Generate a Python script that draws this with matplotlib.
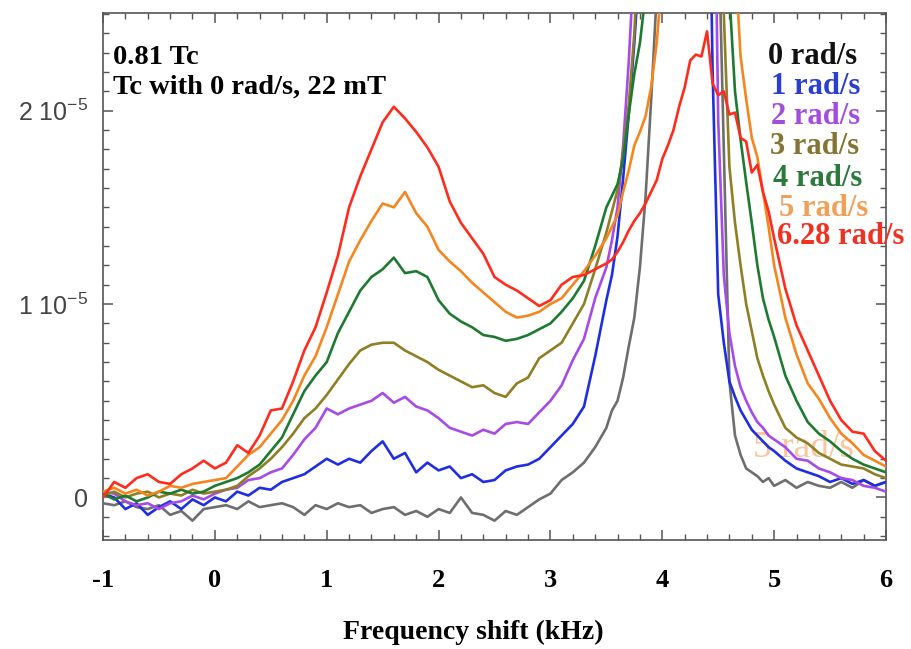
import matplotlib
matplotlib.use("Agg")
import matplotlib.pyplot as plt
from matplotlib.ticker import MultipleLocator, FixedLocator, FixedFormatter
import numpy as np

plt.rcParams['axes.unicode_minus'] = False

# frequency grid (kHz): 0.1 steps, finer around the main peak
freq = np.round(np.r_[np.arange(-1.0, 3.45, 0.1),
                      np.arange(3.5, 5.025, 0.05),
                      np.arange(5.1, 6.05, 0.1)], 2)

# signal values in units of 1e-6 (values above the frame are clipped)
rot_0 = [-0.3, -0.4, -0.2, -0.5, -0.6, -0.4, -0.9, -0.7, -1.2, -0.6,
         -0.5, -0.4, -0.6, -0.2, -0.5, -0.4, -0.3, -0.5, -0.9, -0.4,
         -0.6, -0.3, -0.5, -0.4, -0.8, -0.6, -0.5, -0.9, -0.7, -1.0,
         -0.6, -0.8, 0.0, -0.8, -0.9, -1.2, -0.7, -0.9, -0.5, -0.1,
         0.2, 0.9, 1.3, 1.8, 2.6,
         3.6, 4.5, 5.0, 6.2, 7.8, 9.3, 11.9, 15.5, 20.5, 26, 32,
         40, 40, 40, 40, 40, 40, 40, 40, 40, 30,
         18, 6.0, 3.2, 2.2, 1.5, 1.3, 1.1, 0.8, 1.0, 0.6,
         0.9, 0.5, 0.8, 0.6, 0.5, 0.8, 0.5, 0.9, 0.6, 0.8]
rot_1 = [0.2, 0.0, -0.6, -0.3, -0.9, -0.5, -0.2, -0.6, -0.1, -0.4,
         0.0, -0.2, 0.3, 0.1, 0.5, 0.4, 0.8, 1.0, 1.2, 1.6,
         2.0, 1.7, 2.0, 1.8, 2.4, 2.9, 2.0, 2.3, 1.3, 1.8,
         1.4, 1.6, 1.0, 1.2, 0.8, 0.9, 1.4, 1.6, 1.7, 2.0,
         2.6, 3.2, 3.8, 4.7, 7.3,
         10.2, 11.5, 13.5, 16.5, 19.8, 23.5, 28, 34, 40, 40, 40,
         40, 40, 40, 40, 40, 40, 40, 40, 22, 10.5,
         8.0, 6.0, 5.2, 4.5, 4.0, 3.5, 3.2, 2.9, 2.6, 2.4,
         1.9, 1.5, 1.3, 1.1, 0.8, 1.0, 0.7, 0.9, 0.6, 0.8]
rot_2 = [0.3, 0.2, -0.2, -0.4, -0.3, -0.6, -0.3, -0.2, 0.1, -0.1,
         0.2, 0.4, 0.5, 0.9, 1.0, 1.3, 1.5, 2.2, 3.0, 3.6,
         4.6, 4.3, 4.6, 4.8, 5.0, 5.4, 4.9, 5.2, 4.7, 4.5,
         4.1, 3.6, 3.4, 3.2, 3.5, 3.3, 3.8, 3.9, 3.8, 4.4,
         5.0, 5.8, 7.1, 8.2, 10.3,
         11.9, 13.3, 15.0, 18.2, 22.5, 28, 40, 40, 40, 40, 40,
         40, 40, 40, 40, 40, 40, 40, 40, 40, 19.5,
         11.5, 8.5, 6.8, 5.7, 5.0, 4.4, 3.9, 3.6, 3.2, 3.0,
         2.6, 2.0, 1.9, 1.5, 1.3, 1.0, 0.9, 0.6, 0.5, 0.3]
rot_3 = [0.1, 0.3, 0.0, 0.2, 0.3, 0.0, 0.2, 0.1, 0.4, 0.2,
         0.3, 0.4, 0.6, 1.1, 1.5, 2.0, 2.6, 3.3, 4.1, 4.6,
         5.3, 6.1, 6.9, 7.6, 7.9, 8.0, 8.0, 7.6, 7.3, 7.0,
         6.6, 6.3, 6.0, 5.7, 5.8, 5.4, 5.2, 5.9, 6.2, 7.2,
         7.6, 8.0, 9.0, 10.0, 11.8,
         13.7, 14.8, 15.9, 17.8, 20.3, 24, 30, 40, 40, 40, 40,
         40, 40, 40, 40, 40, 40, 40, 40, 40, 40,
         25, 17.1, 14.2, 12.0, 10.0, 8.6, 7.2, 6.3, 5.5, 4.8,
         3.6, 3.1, 2.8, 2.3, 2.0, 1.7, 1.6, 1.5, 1.2, 1.0]
rot_4 = [0.2, -0.1, 0.1, -0.2, 0.0, 0.3, 0.2, 0.4, 0.2, 0.3,
         0.6, 0.8, 1.0, 1.3, 1.7, 2.4, 3.1, 4.3, 5.5, 6.3,
         7.0, 8.5, 9.6, 10.7, 11.4, 11.8, 12.4, 11.6, 11.7, 11.4,
         10.2, 9.5, 9.1, 8.8, 8.4, 8.3, 8.1, 8.2, 8.4, 8.7,
         9.0, 9.6, 10.3, 11.2, 13.0,
         15.0, 15.6, 16.2, 17.5, 19.8, 21.9, 23.5, 26, 40, 40, 40,
         40, 40, 40, 40, 40, 40, 40, 40, 40, 40,
         40, 26, 21.0, 18.5, 16.3, 14.2, 12.0, 10.3, 9.2, 8.3,
         6.3, 5.0, 3.9, 3.3, 2.9, 2.4, 2.0, 1.7, 1.5, 1.3]
rot_5 = [0.3, 0.5, 0.2, 0.4, 0.1, 0.3, 0.6, 0.5, 0.7, 0.8,
         0.9, 1.0, 1.6, 2.2, 2.6, 3.3, 4.0, 5.0, 6.3, 7.3,
         8.8, 10.5, 12.2, 13.3, 14.3, 15.2, 15.0, 15.8, 14.7, 14.0,
         12.8, 12.2, 11.7, 11.1, 10.6, 10.1, 9.6, 9.3, 9.4, 9.6,
         10.0, 10.3, 11.0, 11.7, 12.5,
         13.4, 14.0, 14.6, 15.8, 16.9, 18.2, 18.9, 19.7, 21.2, 23.5, 27,
         40, 40, 40, 40, 40, 40, 40, 40, 40, 40,
         40, 40, 28, 22.8, 20.6, 18.6, 17.6, 15.8, 14.0, 12.0,
         9.3, 7.4, 5.9, 5.1, 4.1, 3.3, 2.8, 2.2, 1.9, 1.6]
rot_628 = [0.0, 0.8, 0.5, 1.0, 1.2, 0.8, 0.7, 1.2, 1.5, 1.9,
           1.5, 1.8, 2.7, 2.3, 3.2, 4.5, 4.6, 6.0, 7.6, 8.8,
           10.6, 12.5, 15.0, 16.6, 18.0, 19.4, 20.2, 19.6, 18.9, 18.1,
           17.1, 15.3, 14.2, 13.4, 12.6, 11.4, 11.0, 10.7, 10.3, 9.9,
           10.2, 11.0, 11.4, 11.5, 11.8,
           12.1, 12.3, 12.7, 13.2, 13.8, 14.3, 14.7, 15.2, 15.8, 16.4, 17.5,
           18.2, 19.0, 20.2, 21.2, 22.6, 22.9, 22.8, 24.1, 21.4, 20.8,
           21.0, 19.8, 19.9, 18.6, 18.4, 16.8, 17.2, 15.8, 14.8, 13.4,
           10.8, 8.9, 7.6, 6.3, 5.0, 4.0, 3.4, 3.3, 2.4, 1.9]

series = [rot_0, rot_1, rot_2, rot_3, rot_4, rot_5, rot_628]
labels = ['0 rad/s', '1 rad/s', '2 rad/s', '3 rad/s', '4 rad/s', '5 rad/s', '6.28 rad/s']
line_colors = ['#6e6e6e', '#1f2fe0', '#a64be8', '#8f7f24', '#1e7a30', '#f5861f', '#ff2b1c']
text_colors = ['#111111', '#2a3fd0', '#a24de0', '#857535', '#2a7a3c', '#f2a057', '#f03020']
scale = 1e-6

W, H = 911, 649
fig = plt.figure(figsize=(W / 100, H / 100), dpi=100)
ax = fig.add_axes([103 / W, 1 - 540 / H, (886 - 103) / W, (540 - 13) / H])

for vals, c in zip(series, line_colors):
    ax.plot(freq, np.array(vals) * scale, color=c, lw=1.9, zorder=3)

ax.set_xlim(-1, 6)
ax.set_ylim(-2.2e-6, 2.505e-5)

ax.xaxis.set_major_locator(MultipleLocator(1))
ax.xaxis.set_minor_locator(MultipleLocator(0.2))
ax.yaxis.set_major_locator(FixedLocator([0, 1e-5, 2e-5]))
ax.yaxis.set_major_formatter(FixedFormatter(['0', r'1 $\mathregular{10^{-5}}$', r'2 $\mathregular{10^{-5}}$']))
ax.yaxis.set_minor_locator(MultipleLocator(1e-6))
ax.tick_params(which='both', direction='in', top=True, right=True, color='#555555')
ax.tick_params(which='major', length=7, width=1.1)
ax.tick_params(which='minor', length=4, width=1.0)
ax.tick_params(axis='x', pad=21)
ax.tick_params(axis='y', pad=11)
for lab in ax.get_xticklabels():
    lab.set_fontfamily('Liberation Serif')
    lab.set_fontweight('bold')
    lab.set_fontsize(19)
for lab in ax.get_yticklabels():
    lab.set_fontfamily('Liberation Sans')
    lab.set_fontsize(18)
    lab.set_color('#444444')
for sp in ax.spines.values():
    sp.set_color('#555555')
    sp.set_linewidth(1.2)


def px(x, y):
    return x / W, 1 - y / H


serif = dict(family='Liberation Serif', weight='bold')
fig.text(*px(473, 632), 'Frequency shift (kHz)', ha='center', va='center', fontsize=20, **serif)
fig.text(*px(113, 57), '0.81 Tc', ha='left', va='center', fontsize=20.5, **serif)
fig.text(*px(113, 87), 'Tc with 0 rad/s, 22 mT', ha='left', va='center', fontsize=20.5, **serif)

legend_y = [57, 87, 117, 147, 178, 208, 237]
legend_x = [768, 771, 771, 770, 773, 779, 777]
for s, c, lx, ly in zip(labels, text_colors, legend_x, legend_y):
    fig.text(*px(lx, ly), s, ha='left', va='center', color=c, fontsize=22, **serif)

# faint ghost label sitting behind the curves
ax.text(*px(753, 448), '5 rad/s', transform=fig.transFigure, ha='left', va='center',
        color='#f5a060', alpha=0.6, family='Liberation Serif', fontsize=27, zorder=1)

fig.savefig('out.png', dpi=100)
